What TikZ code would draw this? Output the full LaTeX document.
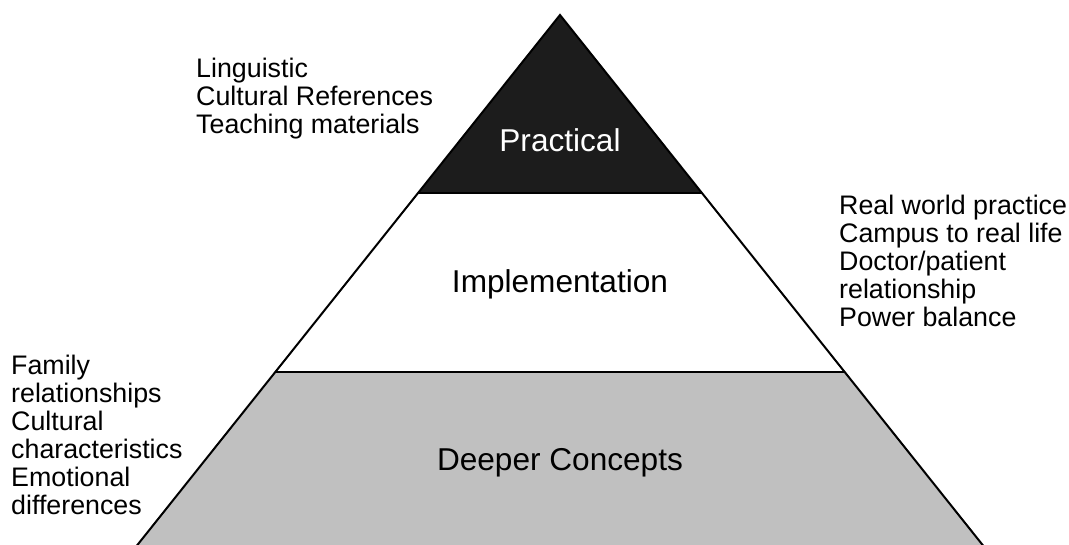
\documentclass[tikz,border=0pt]{standalone}
\usepackage{fontspec}
\setmainfont{Liberation Sans}
\usetikzlibrary{positioning}
\definecolor{darklayer}{HTML}{1c1c1c}
\definecolor{greylayer}{HTML}{c0c0c0}
\tikzset {
  % outline of the pyramid
  edge/.style={draw=black, line width=2pt, line join=miter},
  % names of the three layers
  level/.style={font=\fontsize{31.6}{34}\selectfont, inner sep=0pt, anchor=base},
  % notes beside the pyramid
  notes/.style={font=\fontsize{26.8}{28}\selectfont, align=left, inner sep=0pt, anchor=north west},
}

\begin{document}
\begin{tikzpicture}[x=1pt, y=1pt]
        \useasboundingbox (0,0) rectangle (1069,545);

        \coordinate (apex) at (560,530);
        \coordinate (pl) at (418,352);
        \coordinate (pr) at (702,352);
        \coordinate (il) at (275,173);
        \coordinate (ir) at (845,173);
        \coordinate (bl) at (131,-8);
        \coordinate (br) at (989,-8);

        \begin{scope}
          \clip (0,0) rectangle (1069,545);
          \fill[darklayer] (apex) -- (pr) -- (pl) -- cycle;
          \fill[white] (pl) -- (pr) -- (ir) -- (il) -- cycle;
          \fill[greylayer] (il) -- (ir) -- (br) -- (bl) -- cycle;
          \draw[edge] (bl) -- (apex) -- (br);
          \draw[edge] (pl) -- (pr);
          \draw[edge] (il) -- (ir);
        \end{scope}

        \node[level, text=white] (practical) at (560,393) {Practical};
        \node[level] (implementation) at (560,252) {Implementation};
        \node[level] (deeper) at (560,74) {Deeper Concepts};

        \node[notes] (materials) at (196,487) {Linguistic\\Cultural References\\Teaching materials};
        \node[notes] (practice) at (839,350) {Real world practice\\Campus to real life\\Doctor/patient\\relationship\\Power balance};
        \node[notes] (concepts) at (11,190) {Family\\relationships\\Cultural\\characteristics\\Emotional\\differences};
      \end{tikzpicture}
\end{document}
